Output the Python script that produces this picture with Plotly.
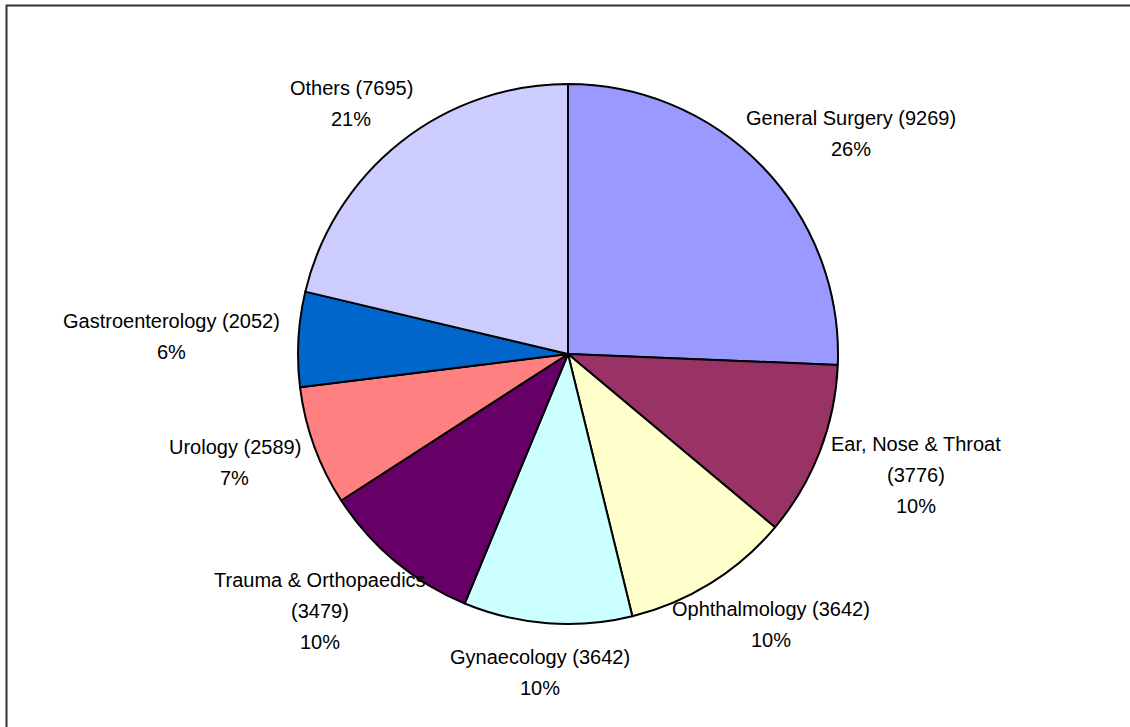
import math
import plotly.graph_objects as go

# 数据
specialties = ["General Surgery", "Ear, Nose & Throat", "Ophthalmology", "Gynaecology",
               "Trauma & Orthopaedics", "Urology", "Gastroenterology", "Others"]
cases = [9269, 3776, 3642, 3642, 3479, 2589, 2052, 7695]
slice_colors = ["#9999FF", "#993366", "#FFFFCC", "#CCFFFF",
                "#660066", "#FF8080", "#0066CC", "#CCCCFF"]
# 标签换行方式
label_text = [
    "General Surgery (9269)",
    "Ear, Nose & Throat<br>(3776)",
    "Ophthalmology (3642)",
    "Gynaecology (3642)",
    "Trauma & Orthopaedics<br>(3479)",
    "Urology (2589)",
    "Gastroenterology (2052)",
    "Others (7695)",
]

W, H = 1130, 727
CX, CY, R = 568, 354, 270   # 饼图中心和半径 (像素)
GAP = 18                     # 标签框与饼图边缘的距离
LINE_H = 31                  # 行距
CHAR_W = 9.5                 # 估算字符宽度
FONT = "Liberation Sans, Arial, sans-serif"

fig = go.Figure(go.Pie(
    labels=specialties,
    values=cases,
    sort=False,
    direction="clockwise",
    rotation=0,
    marker=dict(colors=slice_colors, line=dict(color="black", width=2)),
    textinfo="none",
    hoverinfo="label+value+percent",
    showlegend=False,
    domain=dict(x=[(CX - R) / W, (CX + R) / W],
                y=[(H - CY - R) / H, (H - CY + R) / H]),
))

# 标签: 标签框贴在扇区中点方向外侧 (类似 Excel 的 best fit)
total = sum(cases)
acc = 0
annotations = []
for txt, v in zip(label_text, cases):
    mid = (acc + v / 2) / total * 2 * math.pi
    acc += v
    dx, dy = math.sin(mid), -math.cos(mid)
    lines = txt.split("<br>") + [f"{round(v / total * 100)}%"]
    bw = CHAR_W * max(len(s) for s in lines)
    bh = LINE_H * len(lines)
    bx = CX + dx * (R + GAP) + dx * bw / 2
    by = CY + dy * (R + GAP) + dy * bh / 2
    for k, s in enumerate(lines):
        ly = by + (k - (len(lines) - 1) / 2) * LINE_H
        annotations.append(dict(
            x=bx / W, y=1 - ly / H, xref="paper", yref="paper",
            text=s, showarrow=False,
            xanchor="center", yanchor="middle", align="center",
            font=dict(family=FONT, size=20, color="black"),
        ))

fig.update_layout(
    width=W, height=H,
    margin=dict(l=0, r=0, t=0, b=0),
    paper_bgcolor="white",
    plot_bgcolor="white",
    annotations=annotations,
    shapes=[dict(type="rect", xref="paper", yref="paper",
                 x0=6.5 / W, x1=1.1, y0=-0.1, y1=1 - 5.5 / H,
                 line=dict(color="#333333", width=2))],
)

# 去掉页面默认边距
fig.write_html("out.html", config={"displayModeBar": False},
               post_script="document.body.style.margin='0';document.body.style.overflow='hidden';")
